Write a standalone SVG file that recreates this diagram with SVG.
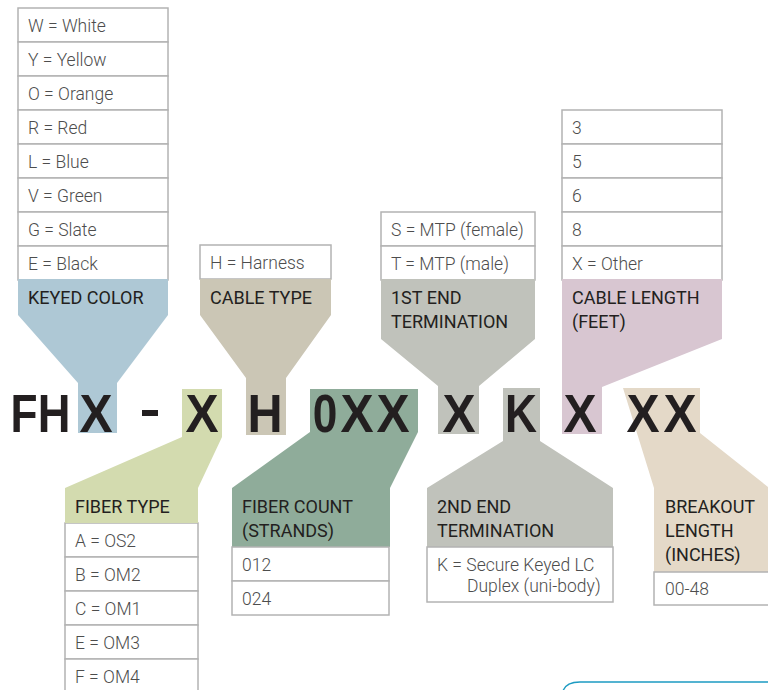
<svg xmlns="http://www.w3.org/2000/svg" width="768" height="690" viewBox="0 0 768 690">
<style>
.row{fill:#fff;stroke:#b3b3b3;stroke-width:1.5}
.it{font-family:Roboto,"Liberation Sans",sans-serif;font-weight:300;font-size:17.5px;fill:#4d4d4d}
.hd{font-family:Roboto,"Liberation Sans",sans-serif;font-weight:400;font-size:18px;fill:#231f20}
.big{font-family:"Liberation Sans",Arial,sans-serif;font-weight:bold;font-size:54px;fill:#231f20;text-anchor:middle}
</style>
<rect width="768" height="690" fill="#fff"/>
<g id="connectors">
<polygon fill="#aec8d5" points="18,279 168,279 168,315 117,383 117,433 78,433 78,383 18,315"/>
<polygon fill="#cbc6b5" points="200,279 331,279 331,315 286,378 286,435 246,435 246,378 200,315"/>
<polygon fill="#c0c2bb" points="381,279 535,279 535,339 479,386 479,434 438,434 438,386 381,339"/>
<polygon fill="#d8c6d1" points="562,279 722,279 722,339 602,387 602,434 562,434"/>
<polygon fill="#d3dbaf" points="182,389 222,389 222,437 198,488 198,523 65,523 65,488 182,437"/>
<polygon fill="#8fac9a" points="310,389 418,389 418,432 390,488 390,547 232,547 232,488 310,432"/>
<polygon fill="#c0c2bb" points="503,388 540,388 540,441 613,488 613,547 427,547 427,488 503,441"/>
<polygon fill="#e4d9c8" points="623,388 700,388 700,433 768,487 780,487 780,572 654,572 654,488"/>
</g>
<g id="code">
<text class="big" transform="translate(24,432) scale(0.82,1)">F</text>
<text class="big" transform="translate(54,432) scale(0.84,1)">H</text>
<text class="big" transform="translate(96,432) scale(0.92,1)">X</text>
<rect x="142" y="410" width="16" height="6" fill="#231f20"/>
<text class="big" transform="translate(202,432) scale(0.92,1)">X</text>
<text class="big" transform="translate(265,432) scale(0.9,1)">H</text>
<text class="big" transform="translate(325,432) scale(0.82,1)">0</text>
<text class="big" transform="translate(357,432) scale(0.92,1)">X</text>
<text class="big" transform="translate(393,432) scale(0.92,1)">X</text>
<text class="big" transform="translate(459,432) scale(0.92,1)">X</text>
<text class="big" transform="translate(521,432) scale(0.82,1)">K</text>
<text class="big" transform="translate(580,432) scale(0.92,1)">X</text>
<text class="big" transform="translate(643,432) scale(0.92,1)">X</text>
<text class="big" transform="translate(680,432) scale(0.92,1)">X</text>
</g>
<g id="keyed-color">
<rect class="row" x="18" y="8" width="150" height="34"/>
<rect class="row" x="18" y="42" width="150" height="34"/>
<rect class="row" x="18" y="76" width="150" height="34"/>
<rect class="row" x="18" y="110" width="150" height="34"/>
<rect class="row" x="18" y="144" width="150" height="34"/>
<rect class="row" x="18" y="178" width="150" height="34"/>
<rect class="row" x="18" y="212" width="150" height="34"/>
<rect class="row" x="18" y="246" width="150" height="34"/>
<rect x="18" y="279" width="150" height="4" fill="#aec8d5"/>
<text class="it" x="28" y="32">W = White</text>
<text class="it" x="28" y="66">Y = Yellow</text>
<text class="it" x="28" y="100">O = Orange</text>
<text class="it" x="28" y="134">R = Red</text>
<text class="it" x="28" y="168">L = Blue</text>
<text class="it" x="28" y="202">V = Green</text>
<text class="it" x="28" y="236">G = Slate</text>
<text class="it" x="28" y="270">E = Black</text>
<text class="hd" x="28" y="304">KEYED COLOR</text>
</g>
<g id="cable-type">
<rect class="row" x="200" y="245" width="131" height="34"/>
<rect x="200" y="279" width="131" height="3" fill="#cbc6b5"/>
<text class="it" x="210" y="269">H = Harness</text>
<text class="hd" x="210" y="304">CABLE TYPE</text>
</g>
<g id="first-end">
<rect class="row" x="381" y="212" width="154" height="34"/>
<rect class="row" x="381" y="246" width="154" height="34"/>
<rect x="381" y="279" width="154" height="3" fill="#c0c2bb"/>
<text class="it" x="391" y="236">S = MTP (female)</text>
<text class="it" x="391" y="270">T = MTP (male)</text>
<text class="hd" x="391" y="304">1ST END</text>
<text class="hd" x="391" y="328">TERMINATION</text>
</g>
<g id="cable-length">
<rect class="row" x="562" y="110" width="160" height="34"/>
<rect class="row" x="562" y="144" width="160" height="34"/>
<rect class="row" x="562" y="178" width="160" height="34"/>
<rect class="row" x="562" y="212" width="160" height="34"/>
<rect class="row" x="562" y="246" width="160" height="34"/>
<rect x="562" y="279" width="160" height="3" fill="#d8c6d1"/>
<text class="it" x="572" y="134">3</text>
<text class="it" x="572" y="168">5</text>
<text class="it" x="572" y="202">6</text>
<text class="it" x="572" y="236">8</text>
<text class="it" x="572" y="270">X = Other</text>
<text class="hd" x="572" y="304">CABLE LENGTH</text>
<text class="hd" x="572" y="328">(FEET)</text>
</g>
<g id="fiber-type">
<rect class="row" x="65" y="523" width="133" height="34"/>
<rect class="row" x="65" y="557" width="133" height="34"/>
<rect class="row" x="65" y="591" width="133" height="34"/>
<rect class="row" x="65" y="625" width="133" height="34"/>
<rect class="row" x="65" y="659" width="133" height="34"/>
<rect x="65" y="521" width="133" height="2" fill="#d3dbaf"/>
<text class="hd" x="75" y="513">FIBER TYPE</text>
<text class="it" x="75" y="547">A = OS2</text>
<text class="it" x="75" y="581">B = OM2</text>
<text class="it" x="75" y="615">C = OM1</text>
<text class="it" x="75" y="649">E = OM3</text>
<text class="it" x="75" y="683">F = OM4</text>
</g>
<g id="fiber-count">
<rect class="row" x="232" y="547" width="157" height="34"/>
<rect class="row" x="232" y="581" width="157" height="34"/>
<text class="hd" x="242" y="513">FIBER COUNT</text>
<text class="hd" x="242" y="537">(STRANDS)</text>
<text class="it" x="242" y="571">012</text>
<text class="it" x="242" y="605">024</text>
</g>
<g id="second-end">
<rect class="row" x="427" y="547" width="186" height="55"/>
<text class="hd" x="437" y="513">2ND END</text>
<text class="hd" x="437" y="537">TERMINATION</text>
<text class="it" x="437" y="571">K = Secure Keyed LC</text>
<text class="it" x="467" y="592">Duplex (uni-body)</text>
</g>
<g id="breakout">
<rect class="row" x="654" y="572" width="130" height="33"/>
<text class="hd" x="665" y="513">BREAKOUT</text>
<text class="hd" x="665" y="537">LENGTH</text>
<text class="hd" x="665" y="561">(INCHES)</text>
<text class="it" x="665" y="595">00-48</text>
</g>
<path d="M563,691 Q566,682 580,682 L770,682" fill="none" stroke="#1d9bc2" stroke-width="1.5"/>
</svg>
